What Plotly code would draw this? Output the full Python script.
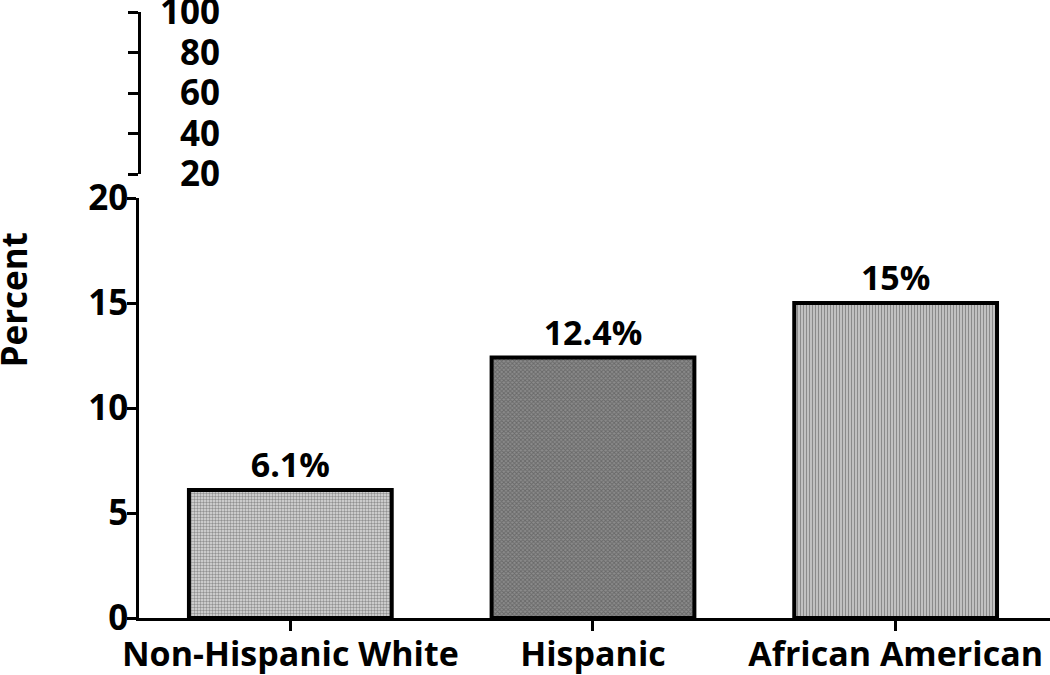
import plotly.graph_objects as go

categories = ["Non-Hispanic White", "Hispanic", "African American"]
values = [6.1, 12.4, 15.0]
labels = ["6.1%", "12.4%", "15%"]
lower_ticks = [0, 5, 10, 15, 20]
upper_ticks = [20, 40, 60, 80, 100]

FONT = "Open Sans"
fill_bg = ["#dedede", "#8c8c8c", "#d2d2d2"]
fill_fg = ["#c4c4c4", "#5e5e5e", "#808080"]
shapes = [".", "x", "|"]

W, H = 1050, 675
ml, mr, mt, mb = 139, 0, 12, 57
pw = W - ml - mr
ph = H - mt - mb
lower_top = (618 - 198) / ph
upper_bot = (618 - 174) / ph

fig = go.Figure()
fig.add_trace(go.Bar(
    x=categories, y=values, text=labels, textposition="outside",
    textfont=dict(family=FONT, size=34, color="black", weight="bold"),
    cliponaxis=False,
    width=0.67,
    marker=dict(
        color=fill_bg,
        line=dict(color="black", width=4),
        pattern=dict(shape=shapes, fgcolor=fill_fg, bgcolor=fill_bg, size=3, solidity=0.5),
    ),
    showlegend=False,
))
fig.add_trace(go.Scatter(x=[], y=[], yaxis="y2", showlegend=False))
fig.add_trace(go.Scatter(x=[], y=[], yaxis="y3", showlegend=False))

fig.update_layout(
    width=W, height=H,
    margin=dict(l=ml, r=mr, t=mt, b=mb, autoexpand=False),
    plot_bgcolor="white", paper_bgcolor="white",
    font=dict(family=FONT, color="black"),
    xaxis=dict(
        range=[-0.5, 2.51], showline=True, linecolor="black", linewidth=2.5,
        ticks="outside", ticklen=10, tickwidth=2.5, tickcolor="black",
        tickfont=dict(family=FONT, size=34, color="black", weight="bold"),
        showgrid=False, zeroline=False, anchor="y", automargin=False,
        ticklabeloverflow="allow", ticklabelstandoff=-6,
    ),
    yaxis=dict(
        domain=[0, lower_top], range=[0, 20], tickvals=lower_ticks,
        showline=True, linecolor="black", linewidth=2.5,
        ticks="outside", ticklen=9, tickwidth=2.5, tickcolor="black",
        tickfont=dict(family=FONT, size=35, color="black", weight="bold"),
        showgrid=False, zeroline=False, automargin=False,
        ticklabelstandoff=-8, ticklabeloverflow="allow",
    ),
    yaxis2=dict(
        domain=[upper_bot, 1], range=[20, 100], tickvals=upper_ticks,
        showline=True, linecolor="black", linewidth=2.5,
        ticks="outside", ticklen=10, tickwidth=2.5, tickcolor="black",
        showticklabels=False, showgrid=False, zeroline=False,
        anchor="free", position=0, automargin=False,
    ),
    yaxis3=dict(
        overlaying="y2", range=[20, 100], tickvals=upper_ticks,
        showline=False, ticks="", showgrid=False, zeroline=False,
        tickfont=dict(family=FONT, size=35, color="black", weight="bold"),
        anchor="free", position=(220 - ml) / pw, side="left", automargin=False,
        ticklabeloverflow="allow",
    ),
)
fig.add_annotation(
    text="<b>Percent</b>", xref="paper", yref="paper",
    x=-ml / pw, y=(618 - 300) / ph, xanchor="left", yanchor="middle",
    xshift=-13, textangle=-90, showarrow=False,
    font=dict(family=FONT, size=35, color="black"),
)
fig.write_html("out.html", config={"displayModeBar": False},
               post_script="document.body.style.margin='0px';")
